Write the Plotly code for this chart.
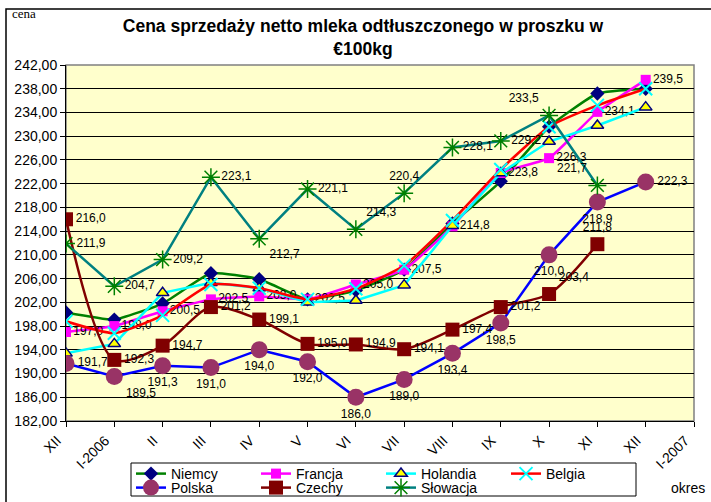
import plotly.graph_objects as go

months = ["XII", "I-2006", "II", "III", "IV", "V", "VI", "VII", "VIII", "IX", "X", "XI", "XII", "I-2007"]

niemcy = [200.3, 199.1, 201.8, 206.9, 205.9, 202.5, 204.0, 207.5, 215.3, 222.4, 231.6, 237.2, 238.0]
francja = [197.0, 198.0, 200.5, 202.5, 203.0, 202.5, 205.0, 207.5, 214.8, 223.8, 226.3, 234.1, 239.5]
holandia = [193.4, 195.0, 203.6, 205.3, 204.4, 202.0, 202.3, 204.9, 214.9, 223.8, 229.1, 231.8, 234.9]
belgia = [198.8, 196.8, 199.8, 205.0, 204.4, 202.5, 204.3, 208.2, 215.8, 224.4, 231.6, 235.2, 238.0]
polska = [191.7, 189.5, 191.3, 191.0, 194.0, 192.0, 186.0, 189.0, 193.4, 198.5, 210.0, 218.9, 222.3]
czechy = [216.0, 192.3, 194.7, 201.2, 199.1, 195.0, 194.9, 194.1, 197.4, 201.2, 203.4, 211.8]
slowacja = [211.9, 204.7, 209.2, 223.1, 212.7, 221.1, 214.3, 220.4, 228.1, 229.2, 233.5, 221.7]

y_ticks = list(range(182, 243, 4))

FONT = "Liberation Sans, Arial, sans-serif"


def lab(vals):
    return [f"{v:.1f}".replace(".", ",") for v in vals]


def xs(vals):
    return list(range(len(vals)))


fig = go.Figure()

fig.add_trace(go.Scatter(
    x=xs(niemcy), y=niemcy, name="Niemcy", mode="lines+markers", legend="legend",
    line=dict(color="#008000", width=2.5, shape="spline", smoothing=0.4),
    marker=dict(symbol="diamond", color="#000080", size=11)))

fig.add_trace(go.Scatter(
    x=xs(francja), y=francja, name="Francja", mode="lines+markers+text", legend="legend",
    line=dict(color="#FF00FF", width=2.5, shape="spline", smoothing=0.4),
    marker=dict(symbol="square", color="#FF00FF", size=10),
    text=lab(francja), textposition="middle right",
    textfont=dict(family=FONT, size=12, color="black")))

fig.add_trace(go.Scatter(
    x=xs(holandia), y=holandia, name="Holandia", mode="lines+markers", legend="legend",
    line=dict(color="#00FFFF", width=2.5),
    marker=dict(symbol="triangle-up", color="#FFFF00", size=11,
                line=dict(color="#000080", width=1.5))))

fig.add_trace(go.Scatter(
    x=xs(belgia), y=belgia, name="Belgia", mode="lines+markers", legend="legend",
    line=dict(color="#FF0000", width=2.5, shape="spline", smoothing=0.5),
    marker=dict(symbol="x-thin-open", color="#00FFFF", size=13,
                line=dict(color="#00FFFF", width=2))))

pol_pos = ["middle right", "bottom right", "bottom center", "bottom center", "bottom center",
           "bottom center", "bottom center", "bottom center", "bottom center", "bottom center",
           "bottom center", "bottom center", "middle right"]
fig.add_trace(go.Scatter(
    x=xs(polska), y=polska, name="Polska", mode="lines+markers+text", legend="legend2",
    line=dict(color="#0000FF", width=2.5),
    marker=dict(symbol="circle", color="#993366", size=17),
    text=lab(polska), textposition=pol_pos,
    textfont=dict(family=FONT, size=12, color="black")))

cz_pos = ["middle right"] * 10 + ["top right", "top center"]
fig.add_trace(go.Scatter(
    x=xs(czechy), y=czechy, name="Czechy", mode="lines+markers+text", legend="legend2",
    line=dict(color="#800000", width=2.5, shape="spline", smoothing=0.8),
    marker=dict(symbol="square", color="#800000", size=14),
    text=lab(czechy), textposition=cz_pos,
    textfont=dict(family=FONT, size=12, color="black")))

sk_pos = ["middle right", "middle right", "middle right", "middle right", "bottom right",
          "middle right", "top right", "top center", "middle right", "middle right",
          "top left", "top left"]
fig.add_trace(go.Scatter(
    x=xs(slowacja), y=slowacja, name="Słowacja", mode="lines+markers+text", legend="legend2",
    line=dict(color="#008080", width=2.5),
    marker=dict(symbol="asterisk-open", color="#008000", size=15,
                line=dict(color="#008000", width=1.5)),
    text=lab(slowacja), textposition=sk_pos,
    textfont=dict(family=FONT, size=12, color="black")))

# layout geometry (pixels -> paper)
L, R, T, B = 66, 694, 65, 421
W, H = R - L, B - T


def px(x):
    return (x - L) / W


def py(y):
    return (B - y) / H


leg_common = dict(orientation="h", xanchor="left", yanchor="middle",
                  borderwidth=0, bgcolor="rgba(0,0,0,0)",
                  font=dict(family=FONT, size=14, color="black"),
                  entrywidth=80, entrywidthmode="pixels")

fig.update_layout(
    width=711, height=502,
    margin=dict(l=L, r=711 - R, t=T, b=502 - B, autoexpand=False),
    paper_bgcolor="white", plot_bgcolor="#FFFFCC",
    separators=", ",
    hovermode=False,
    font=dict(family=FONT, size=14, color="black"),
    title=dict(text="Cena sprzedaży netto mleka odtłuszczonego w proszku w<br>€100kg",
               font=dict(family=FONT, size=17.5, color="black", weight="bold"),
               x=363 / 711, xanchor="center", xref="container",
               y=1 - 32 / 502, yanchor="top", yref="container"),
    showlegend=True,
    legend=dict(x=px(131), y=py(474), **leg_common),
    legend2=dict(x=px(131), y=py(488), **leg_common),
    xaxis=dict(range=[0, 13], tickmode="array", tickvals=list(range(len(months))),
               ticktext=months, tickangle=-45, ticks="outside", ticklen=5,
               ticklabelshift=-9,
               tickcolor="black", showline=True, linecolor="black", linewidth=1,
               showgrid=False, zeroline=False,
               tickfont=dict(family=FONT, size=14, color="black")),
    yaxis=dict(range=[182, 242], tickmode="array", tickvals=y_ticks, tickformat=".2f",
               ticks="outside", ticklen=5, tickcolor="black",
               showline=True, linecolor="black", linewidth=1,
               showgrid=True, gridcolor="black", gridwidth=1, zeroline=False,
               tickfont=dict(family=FONT, size=14, color="black")),
    shapes=[
        dict(type="rect", xref="paper", yref="paper", x0=0, x1=1, y0=0, y1=1,
             line=dict(color="#808080", width=1.5), layer="below"),
        dict(type="rect", xref="paper", yref="paper", x0=px(6), x1=px(720),
             y0=py(510), y1=py(9), line=dict(color="black", width=1.5)),
        dict(type="rect", xref="paper", yref="paper", x0=px(131), x1=px(636),
             y0=py(496), y1=py(463), line=dict(color="black", width=1)),
    ],
    annotations=[
        dict(text="cena", xref="paper", yref="paper", x=px(10), y=py(14),
             xanchor="left", yanchor="middle", showarrow=False,
             font=dict(family="Liberation Serif, Times New Roman, serif", size=13, color="black")),
        dict(text="okres", xref="paper", yref="paper", x=px(707), y=py(488),
             xanchor="right", yanchor="middle", showarrow=False,
             font=dict(family=FONT, size=14, color="black")),
    ],
)

fig.write_html("out.html", config={"displayModeBar": False},
               post_script="document.body.style.margin='0';")
